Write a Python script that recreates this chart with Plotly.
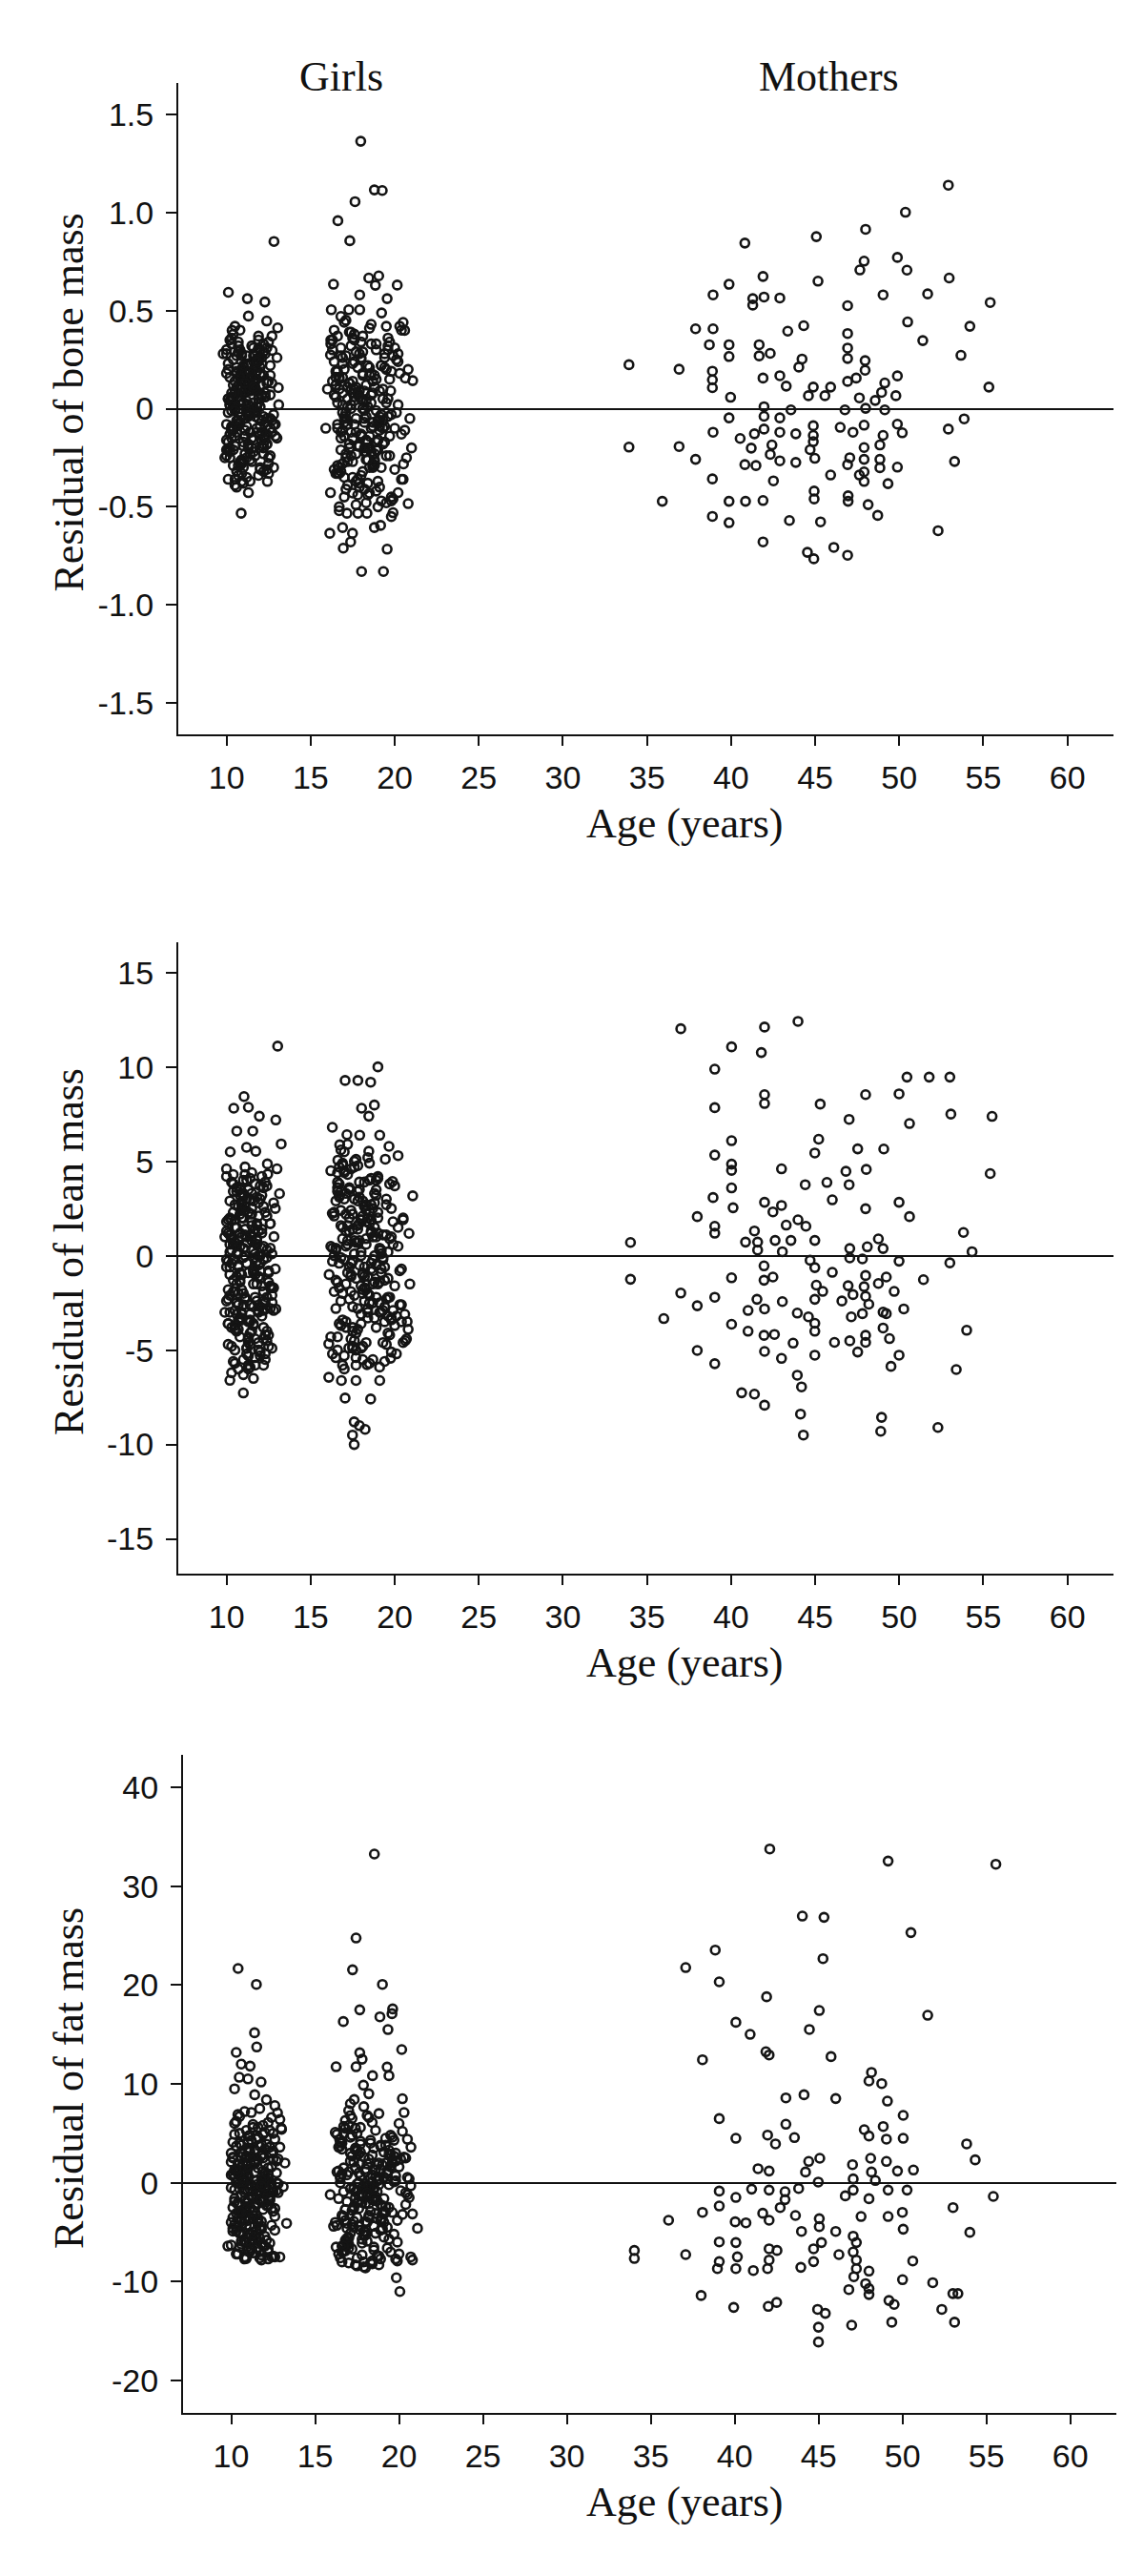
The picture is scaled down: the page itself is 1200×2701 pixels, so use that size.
import plotly.graph_objects as go

W, H = 1200, 2701

# ---------------- data ----------------
# girls, shared ages (same individuals in the three panels)
girl_age_a = [10.1, 11.4, 10.6, 12.0, 10.9, 11.7, 10.3, 12.4, 11.1, 10.8,
              11.9, 10.2, 11.3, 12.6, 10.5, 11.0, 11.8, 10.7, 12.2, 11.5,
              10.0, 11.2, 12.9, 10.4, 11.6, 10.9, 12.1, 11.3, 10.6, 12.5,
              11.0, 10.3, 11.9, 12.3, 10.8, 11.4, 10.1, 12.7, 11.7, 10.5,
              11.2, 12.0, 10.7, 11.5, 10.2, 12.8, 11.1, 10.9, 11.8, 10.4,
              12.2, 11.6, 10.0, 11.3, 12.4, 10.6, 11.9, 10.8, 12.1, 11.0,
              10.3, 11.7, 12.6, 10.5, 11.4, 10.9, 12.0, 11.2, 10.1, 12.3,
              11.8, 10.7, 11.5, 12.9, 10.4, 11.1, 10.2, 12.5, 11.6, 10.8,
              11.3, 12.2, 10.6, 11.9, 10.0, 12.7, 11.0, 10.5, 11.7, 12.4,
              10.9, 11.4, 10.3, 12.1, 11.8, 10.7, 11.2, 12.6, 10.1, 11.5,
              12.0, 10.4, 11.6, 10.8, 12.3, 11.1, 10.6, 11.9, 13.0, 10.2,
              11.3, 10.9, 12.5, 11.7, 10.5, 12.2, 11.0, 10.3, 11.4, 12.8,
              10.7, 11.8, 10.0, 12.0, 11.2, 10.6, 11.5, 12.4, 10.9, 11.1,
              12.1, 10.4, 11.6, 10.8, 12.7, 11.3, 10.2, 11.9, 12.3, 10.5,
              11.0, 12.6, 10.7, 11.4, 10.1, 12.2, 11.7, 10.9, 11.8, 12.0,
              10.4, 11.1, 12.3, 10.2, 11.6, 10.8, 12.0, 11.3, 10.5, 11.9,
              10.7, 12.2, 11.0, 10.3, 11.5, 12.5, 10.9, 11.2, 10.1, 11.8,
              12.1, 10.6, 11.4, 10.0, 12.4, 11.7, 10.8, 11.0, 12.6, 10.4,
              11.3, 10.7, 11.9, 12.2, 10.2, 11.6, 10.9, 12.0, 11.1, 10.5,
              11.8, 10.3, 12.3, 11.4, 10.6, 11.2, 12.7, 10.1, 11.5, 10.8,
              12.1, 11.0, 10.4, 11.7, 12.4, 10.9, 11.3, 10.2, 11.9, 12.0,
              10.6, 11.5, 10.7, 12.2, 11.1, 10.3, 11.8, 12.5, 10.5, 11.4,
              10.0, 11.6, 12.3, 10.8, 11.2, 10.4, 12.1, 11.0, 10.9, 11.7,
              12.6, 10.2, 11.3, 10.6, 11.9, 12.0, 10.7, 11.5, 10.3, 12.2,
              11.1, 10.5, 11.8, 12.4, 10.1, 11.4, 10.8, 11.6, 12.8, 10.9]
girl_age_b = [17.2, 18.5, 16.6, 19.3, 17.8, 18.1, 16.9, 19.8, 17.5, 18.8,
              16.3, 19.1, 17.9, 18.4, 20.2, 17.1, 18.7, 16.7, 19.5, 18.0,
              17.4, 19.0, 16.5, 18.3, 17.7, 20.5, 18.9, 17.0, 19.4, 16.8,
              18.2, 17.6, 19.7, 16.4, 18.6, 17.3, 20.0, 18.1, 16.9, 19.2,
              17.8, 18.4, 16.2, 19.6, 17.5, 18.8, 20.4, 17.1, 18.0, 16.6,
              19.0, 17.9, 18.5, 16.7, 19.3, 17.4, 20.7, 18.2, 17.0, 19.9,
              16.5, 18.7, 17.6, 19.1, 18.3, 16.8, 20.1, 17.2, 18.9, 17.7,
              19.5, 16.4, 18.1, 17.3, 19.8, 18.6, 16.9, 20.3, 17.5, 18.4,
              17.0, 19.2, 16.6, 18.0, 17.8, 19.6, 18.8, 16.3, 20.6, 17.4,
              18.5, 17.1, 19.4, 16.7, 18.2, 17.9, 20.0, 18.7, 16.5, 19.0,
              17.6, 18.3, 16.8, 19.7, 17.2, 18.9, 20.8, 17.7, 18.1, 16.4,
              19.3, 17.5, 18.6, 16.9, 19.9, 17.3, 18.4, 20.2, 17.0, 18.8,
              16.6, 19.1, 17.8, 18.0, 16.2, 19.5, 17.4, 18.5, 20.4, 17.6,
              18.2, 16.7, 19.8, 17.1, 18.7, 17.9, 16.5, 19.2, 18.3, 20.5,
              17.2, 18.6, 16.8, 19.6, 17.7, 18.1, 19.0, 16.3, 18.9, 17.5,
              17.4, 18.2, 16.8, 19.1, 17.7, 18.6, 17.0, 19.5, 18.0, 16.6,
              18.9, 17.3, 19.3, 16.9, 18.4, 17.8, 20.0, 17.1, 18.7, 19.7,
              16.7, 18.1, 17.5, 19.0, 18.3, 16.5, 19.4, 17.6, 18.8, 17.2,
              20.3, 18.5, 16.9, 17.9, 19.2, 18.0, 17.4, 19.6, 16.4, 18.6,
              17.7, 19.8, 18.2, 17.0, 18.9, 16.8, 19.1, 17.5, 18.4, 20.1,
              17.3, 18.7, 16.6, 19.4, 17.8, 18.1, 19.9, 17.1, 18.5, 16.9,
              19.2, 17.6, 18.3, 20.4, 17.4, 18.8, 16.7, 19.5, 18.0, 17.2,
              18.6, 19.0, 16.5, 17.9, 19.7, 18.2, 17.7, 18.9, 16.8, 19.3,
              17.0, 18.4, 20.2, 17.5, 18.1, 16.6, 19.6, 17.8, 18.7, 17.3,
              19.1, 16.9, 18.5, 17.6, 19.8, 18.3, 17.1, 18.0, 19.4, 16.7]

bone_girl_a = [0.05, -0.12, 0.21, -0.30, 0.10, -0.02, 0.33, -0.18, 0.14, -0.07,
               0.26, -0.25, 0.02, 0.17, -0.36, 0.08, -0.10, 0.29, -0.04, 0.12,
               -0.21, 0.19, -0.14, 0.38, 0.00, -0.28, 0.07, 0.23, -0.09, -0.33,
               0.15, -0.01, 0.31, -0.16, 0.04, -0.23, 0.20, -0.06, 0.11, -0.39,
               0.27, -0.13, 0.06, -0.20, 0.35, -0.03, 0.16, -0.27, 0.09, 0.01,
               -0.15, 0.24, -0.08, 0.13, -0.31, 0.18, -0.05, 0.40, -0.19, 0.03,
               -0.11, 0.22, -0.24, 0.08, -0.37, 0.14, 0.30, -0.02, -0.17, 0.06,
               0.19, -0.29, 0.11, -0.08, 0.25, -0.14, 0.02, 0.34, -0.22, 0.10,
               -0.04, 0.17, -0.32, 0.05, 0.28, -0.12, 0.21, -0.19, -0.01, 0.13,
               -0.26, 0.09, 0.36, -0.06, 0.15, -0.34, 0.04, -0.10, 0.23, -0.15,
               0.12, -0.21, 0.31, 0.00, -0.07, 0.18, -0.40, 0.07, 0.26, -0.13,
               -0.03, 0.20, -0.25, 0.14, 0.42, -0.18, 0.03, -0.09, 0.16, -0.30,
               0.08, 0.24, -0.16, 0.01, -0.35, 0.11, 0.32, -0.05, 0.19, -0.23,
               0.06, -0.11, 0.27, -0.28, 0.13, 0.02, -0.20, 0.37, -0.14, 0.09,
               -0.38, 0.22, -0.06, 0.15, -0.02, 0.29, -0.24, 0.04, -0.12, 0.17,
               0.12, -0.05, 0.28, -0.22, 0.03, 0.17, -0.31, 0.09, -0.14, 0.24,
               -0.02, 0.33, -0.19, 0.06, -0.27, 0.14, 0.20, -0.09, -0.36, 0.01,
               0.26, -0.12, 0.10, -0.24, 0.31, -0.04, 0.16, -0.17, 0.07, -0.29,
               0.22, -0.08, 0.35, -0.20, 0.04, 0.13, -0.33, 0.18, -0.11, 0.00,
               0.29, -0.15, 0.08, -0.26, 0.19, -0.01, 0.37, -0.21, 0.11, -0.07,
               0.23, -0.30, 0.05, 0.15, -0.13, 0.27, -0.18, 0.02, -0.34, 0.21,
               -0.06, 0.12, 0.32, -0.23, 0.09, -0.10, 0.25, -0.28, 0.14, -0.03,
               0.18, -0.16, 0.06, 0.30, -0.25, 0.01, -0.12, 0.22, -0.37, 0.10,
               -0.05, 0.16, -0.20, 0.27, 0.03, -0.09, 0.34, -0.15, 0.08, -0.32,
               0.13, -0.01, 0.24, -0.18, 0.05, 0.19, -0.27, 0.11, -0.08, 0.28]
bone_girl_b = [-0.08, 0.21, -0.33, 0.05, -0.19, 0.37, -0.02, -0.45, 0.14, -0.26,
               0.30, -0.11, 0.09, -0.38, 0.24, -0.05, -0.29, 0.16, 0.42, -0.14,
               0.02, -0.50, 0.19, -0.22, 0.11, -0.36, 0.33, -0.07, -0.17, 0.27,
               -0.41, 0.06, -0.24, 0.40, -0.10, 0.13, -0.31, 0.00, 0.23, -0.47,
               0.08, -0.20, 0.35, -0.04, -0.27, 0.17, -0.13, 0.45, -0.34, 0.03,
               -0.16, 0.28, -0.43, 0.10, -0.06, 0.32, -0.25, -0.01, 0.20, -0.53,
               0.12, -0.30, 0.38, -0.09, 0.04, -0.21, 0.25, -0.39, 0.15, -0.12,
               -0.48, 0.07, 0.29, -0.18, -0.03, 0.43, -0.28, 0.18, -0.15, 0.01,
               -0.35, 0.22, -0.08, 0.34, -0.44, 0.05, -0.23, 0.14, -0.11, 0.39,
               -0.30, -0.02, 0.26, -0.52, 0.09, -0.19, 0.31, -0.07, 0.16, -0.37,
               0.04, -0.26, 0.47, -0.14, 0.11, -0.42, 0.20, -0.05, -0.32, 0.24,
               -0.10, 0.36, -0.22, 0.02, -0.46, 0.13, -0.17, 0.28, -0.04, -0.29,
               0.19, -0.40, 0.07, -0.13, 0.33, -0.24, 0.00, 0.41, -0.36, 0.10,
               -0.20, 0.15, -0.55, 0.27, -0.09, 0.06, -0.33, 0.22, -0.16, 0.44,
               -0.27, 0.03, -0.12, 0.30, -0.49, 0.17, -0.06, 0.35, -0.21, 0.08,
               0.10, -0.22, 0.31, -0.06, -0.37, 0.18, -0.14, 0.03, 0.26, -0.29,
               -0.01, 0.39, -0.18, 0.08, -0.44, 0.21, -0.10, -0.25, 0.14, 0.34,
               -0.33, 0.00, 0.23, -0.16, -0.48, 0.12, 0.28, -0.08, -0.27, 0.05,
               0.42, -0.20, 0.16, -0.40, -0.03, 0.25, -0.12, 0.36, -0.31, 0.07,
               -0.23, 0.19, -0.05, -0.45, 0.30, -0.15, 0.09, -0.35, 0.22, -0.02,
               0.13, -0.28, 0.37, -0.09, -0.19, 0.04, 0.27, -0.41, 0.17, -0.11,
               -0.30, 0.24, -0.04, 0.40, -0.24, 0.11, -0.50, 0.20, -0.13, 0.01,
               0.33, -0.21, 0.06, -0.38, 0.15, -0.07, 0.29, -0.17, -0.32, 0.10,
               0.44, -0.26, 0.02, -0.43, 0.18, -0.10, 0.32, -0.36, 0.08, -0.20,
               -0.04, 0.26, -0.14, 0.35, -0.47, 0.12, -0.23, 0.05, 0.21, -0.30]
lean_girl_a = [1.2, -3.4, 0.5, -5.1, 2.8, -1.0, 3.9, -2.2, 0.0, -4.3,
               2.1, -0.6, -5.8, 1.7, -2.9, 3.3, -1.5, 0.8, -3.8, 4.4,
               -0.2, -4.9, 2.5, -1.9, 0.3, -3.1, 1.4, -6.0, 3.6, -0.9,
               -2.6, 0.9, -4.6, 2.3, -1.3, 4.1, -3.6, 0.1, -5.4, 1.9,
               -0.4, 3.0, -2.0, -4.0, 1.1, -1.7, 4.7, -3.0, 0.6, -5.6,
               2.6, -0.8, -2.4, 3.5, -4.5, 1.5, -1.1, -3.3, 0.4, 2.0,
               -6.2, 3.8, -1.6, 0.7, -4.1, 2.4, -2.7, 1.0, -0.3, -5.2,
               3.1, -3.9, 1.8, -0.7, 4.3, -2.3, 0.2, -4.8, 2.9, -1.4,
               -3.5, 0.5, 3.4, -5.0, 1.3, -2.1, -0.1, 2.7, -4.4, 3.7,
               -1.8, -5.9, 0.9, -3.2, 1.6, -0.5, 4.0, -2.8, -4.7, 2.2,
               -1.2, 0.6, -3.7, 3.2, -5.5, 1.1, -2.5, 0.0, 4.6, -3.0,
               -0.9, 2.0, -4.2, 1.4, -1.9, 3.6, -6.3, 0.3, -2.6, 2.8,
               -3.4, 1.7, -0.6, -5.3, 3.0, -1.5, 0.8, -4.0, 2.5, -2.2,
               4.2, -0.2, -3.6, 1.2, -4.9, 2.3, -1.0, -2.9, 3.9, -5.7,
               0.4, -1.7, 2.6, -3.1, 1.9, -4.4, 0.1, 3.3, -2.4, -0.8,
               -1.3, 2.4, -4.2, 0.6, -2.7, 3.5, -0.4, -5.3, 1.5, -3.0,
               0.2, -1.9, 4.0, -3.8, 1.0, -0.8, 2.7, -4.9, -2.3, 0.9,
               3.2, -1.1, -3.5, 1.8, -0.1, -5.8, 2.2, -2.0, 0.4, 3.8,
               -4.4, -0.6, 1.3, -2.9, 2.9, -1.5, -3.3, 0.0, 4.3, -5.0,
               -0.3, 1.9, -2.5, 3.0, -4.0, 0.7, -1.7, -3.6, 2.5, -0.9,
               1.2, -5.5, 3.4, -2.2, 0.3, -1.0, -4.6, 2.0, -0.5, 3.7,
               -3.1, 1.6, -2.6, -0.2, 2.6, -4.8, 0.8, -1.4, -3.9, 1.1,
               4.2, -0.7, -2.8, 0.5, -5.2, 2.3, -1.6, 3.1, -3.4, -0.1,
               1.7, -2.1, -4.3, 0.1, 2.8, -1.2, -6.0, 3.3, -0.4, -2.4,
               1.4, -3.7, 0.6, 2.1, -1.8, -4.7, 3.6, -0.9, -2.9, 1.0]
lean_girl_b = [0.8, -2.5, 3.9, -4.6, 1.6, -0.9, 4.8, -3.3, 2.2, -1.4,
               -5.2, 0.3, 3.1, -2.0, 5.3, -3.8, 1.0, -0.4, 2.7, -4.9,
               -1.1, 4.2, -2.8, 0.6, -5.8, 1.9, 3.5, -0.2, -3.5, 2.4,
               -1.7, 5.0, -4.2, 0.0, 1.3, -2.3, 3.7, -5.5, 0.9, -0.7,
               2.9, -3.0, 4.5, -1.2, -4.0, 1.5, -2.6, 3.3, 0.2, -5.0,
               2.0, -0.5, 4.0, -3.6, 1.1, -1.9, -4.4, 2.6, 5.5, -2.9,
               0.4, -1.5, 3.0, -5.9, 1.8, -0.1, -3.2, 4.3, -2.2, 0.7,
               -4.7, 2.3, -1.0, 3.6, -3.4, 1.2, 4.9, -0.8, -2.7, 2.0,
               -5.3, 0.1, 3.4, -1.6, 1.4, -4.1, 2.8, -0.3, -3.1, 4.6,
               -2.1, 0.5, -5.6, 3.2, -0.6, 1.7, -3.7, 2.5, -1.3, 4.1,
               -4.5, 0.9, -2.4, 3.8, -0.9, 1.0, -3.9, 5.1, -1.8, 2.1,
               -0.2, -4.8, 2.7, -2.0, 0.6, 3.5, -3.3, 1.5, -6.0, 0.0,
               4.4, -1.4, -2.8, 1.9, -4.3, 3.0, -0.4, 2.3, -3.5, 0.8,
               -1.1, 4.7, -5.1, 1.3, -2.5, 3.9, 0.3, -3.0, 2.4, -4.6,
               1.6, -0.7, 3.4, -2.2, -5.4, 2.9, -1.5, 0.4, 4.0, -3.8,
               -1.0, 2.6, -3.7, 0.4, -5.0, 1.9, 4.4, -2.3, 0.0, -4.3,
               3.2, -0.6, -2.9, 1.5, 5.2, -3.9, -1.6, 2.2, -5.5, 0.9,
               3.8, -2.0, -0.3, 1.2, -4.6, 2.9, -1.3, 4.7, -3.3, 0.6,
               -2.6, 1.7, -5.8, 3.5, -0.9, -3.6, 2.4, 0.2, -1.9, 4.1,
               -4.1, 1.0, -2.4, 3.0, -0.5, 5.6, -3.0, 1.4, -1.1, -5.2,
               2.0, -0.2, 3.6, -2.7, 0.7, -4.8, 1.8, -1.5, 4.9, -3.4,
               0.3, -2.1, 2.7, -0.7, -4.4, 3.3, -1.7, 1.1, -3.1, 5.9,
               -0.4, 2.3, -5.4, 0.8, -2.2, 3.9, -1.2, -3.8, 1.6, -0.1,
               4.5, -2.8, 0.5, -4.9, 2.1, -1.4, -3.2, 3.4, -0.8, 1.3,
               -2.5, 4.8, -5.7, 0.1, 2.5, -1.8, -3.5, 1.9, -0.6, 3.1]
fat_girl_a = [-3.5, 2.1, -6.2, 0.4, 5.3, -1.8, -4.9, 3.0, -0.6, 7.2,
              -2.7, 1.2, -7.1, 4.4, -0.1, -5.5, 2.8, -3.0, 6.1, -1.2,
              0.8, -6.8, 3.6, -2.2, -4.1, 1.7, 8.4, -0.9, -5.9, 2.4,
              -3.8, 0.0, 5.8, -1.5, -7.5, 3.3, -2.5, 1.0, -4.6, 6.7,
              -0.3, -6.4, 2.0, -3.3, 4.9, -1.0, -5.2, 0.6, 3.9, -2.0,
              -7.7, 1.5, -0.5, 5.6, -4.3, 2.6, -1.7, -6.0, 0.2, 4.1,
              -3.1, -0.8, 7.8, -5.0, 1.9, -2.4, 3.4, -6.6, 0.9, -1.3,
              -4.4, 2.9, -0.2, 6.4, -3.6, -7.0, 1.3, -2.9, 4.6, -0.7,
              -5.7, 0.5, 3.1, -1.9, -4.0, 2.2, -6.9, 5.0, -0.4, -2.6,
              1.8, -5.3, 3.7, -1.1, -7.3, 0.1, 4.3, -3.4, 2.5, -4.8,
              -0.6, 6.9, -2.1, 1.1, -6.1, 3.2, -3.9, 0.3, 5.4, -1.6,
              -5.0, 2.0, -0.9, -7.6, 4.0, -2.3, 1.4, -4.5, 8.9, -0.1,
              -3.2, 2.7, -6.3, 0.7, -1.4, 3.8, -5.6, 1.6, -2.8, 4.8,
              -0.4, -7.2, 2.3, -3.7, 0.0, 5.9, -4.2, 1.2, -1.8, -6.5,
              3.5, -2.6, 0.5, -5.4, 2.6, -0.8, 7.5, -3.0, -4.7, 1.0,
              1.2, -4.4, 3.6, -1.9, -6.6, 0.4, 5.1, -2.8, -0.6, 2.5,
              -5.3, 0.9, -3.4, 6.2, -1.2, -7.4, 2.0, -0.2, 4.1, -3.9,
              -5.8, 1.6, -2.2, 3.0, -0.9, -6.9, 0.0, 4.7, -4.8, 1.8,
              -1.5, -3.1, 2.9, -7.0, 0.6, 5.6, -2.5, -0.4, 3.4, -5.1,
              -6.2, 1.3, -1.7, 2.3, -3.7, 7.1, -0.8, -4.6, 0.2, -7.7,
              3.9, -2.0, 1.0, -5.6, -0.1, 2.7, -3.3, 6.0, -6.4, 0.7,
              -1.3, 4.4, -4.1, 1.5, -2.7, -7.2, 0.3, 3.2, -5.0, -0.5,
              2.1, -3.6, 5.3, -1.0, -6.0, 1.9, -2.3, 0.8, -4.3, 3.7,
              -7.5, -0.7, 2.6, -3.0, 4.9, -5.4, 0.1, -1.6, 1.4, -6.7,
              3.1, -2.9, -0.3, 6.6, -4.9, 1.1, -1.8, -3.8, 2.4, -5.9]
fat_girl_b = [-2.8, 3.5, -6.4, 1.0, -0.5, 6.8, -4.1, 2.2, -7.6, 0.3,
              4.9, -1.6, -5.3, 2.8, -3.2, 8.0, -0.9, -6.9, 1.7, -2.1,
              5.5, -4.6, 0.6, -8.1, 3.1, -1.2, -3.7, 7.3, -0.2, -5.8,
              2.4, -2.6, 4.3, -7.2, 1.3, -0.6, 6.0, -4.0, -1.9, 3.8,
              -6.1, 0.1, 5.1, -3.0, -8.4, 2.0, -1.0, 4.6, -5.0, 0.9,
              -2.3, 7.7, -4.4, 1.5, -6.6, 3.3, -0.3, -3.5, 5.8, -7.9,
              0.5, -1.8, 2.9, -5.5, 4.0, -2.7, -0.8, 6.5, -4.8, 1.9,
              -7.0, 3.6, -1.4, -3.9, 0.7, 5.3, -6.2, 2.6, -2.0, -8.2,
              1.1, 4.5, -3.3, -0.1, -5.7, 2.3, 7.0, -4.3, 0.4, -1.5,
              -6.8, 3.0, -2.5, 5.7, -0.7, -4.9, 1.6, -7.4, 4.1, -3.6,
              0.0, -1.1, 6.3, -5.2, 2.7, -2.2, -7.8, 3.9, -0.4, 1.2,
              -4.5, 5.0, -3.1, 0.8, -6.0, 2.1, -1.7, 8.5, -5.6, -0.2,
              3.4, -2.9, -7.3, 1.4, -4.0, 4.8, -0.9, -6.5, 2.5, -1.3,
              6.6, -3.4, 0.2, -5.1, 1.8, -8.0, 3.7, -2.4, -0.5, 4.4,
              -6.7, 0.6, -3.8, 2.0, 5.6, -1.0, -4.7, 1.1, -7.7, 3.2,
              1.5, -3.3, -6.9, 0.6, 4.2, -1.4, -5.5, 2.9, -0.3, -8.0,
              3.7, -2.4, 0.9, -4.6, 6.1, -1.1, -7.2, 2.2, -3.6, 0.1,
              5.0, -5.9, -0.8, 1.8, -2.9, -7.6, 3.3, -1.9, 0.4, -4.2,
              7.1, -0.5, -6.3, 2.6, -3.0, 1.1, -8.3, 4.6, -1.6, -5.1,
              0.7, 3.0, -2.1, -6.6, 1.4, 5.5, -4.0, -0.1, -7.9, 2.4,
              -2.6, 0.3, 4.0, -5.7, -1.3, 1.9, -3.8, 6.8, -0.7, -6.0,
              2.0, -4.4, 0.5, -2.2, 3.5, -7.4, -0.9, 1.6, -5.3, 4.8,
              -1.8, -3.1, 0.0, -8.5, 2.7, -0.4, -4.8, 3.8, -2.7, 1.2,
              -6.2, 0.8, 5.2, -3.5, -1.0, -7.0, 2.1, -2.0, 0.2, -4.5,
              3.1, -5.6, -1.5, 1.0, -7.7, 4.3, -0.6, -3.9, 2.8, -6.4]

# girls, scattered points read individually per panel
bone_girl_x_age = [12.82, 10.11, 11.24, 12.28, 11.30, 12.39, 13.04, 10.33, 12.71, 10.0,
                   13.08, 10.87, 11.3, 12.43, 9.8, 9.9, 13.0, 13.1,
                   17.98, 18.79, 19.26, 17.64, 16.62, 17.33, 16.36, 18.46, 19.05, 20.15,
                   18.85, 17.92, 19.55, 16.23, 17.27, 17.92, 19.22, 20.59, 16.18, 20.63,
                   21.07, 19.76, 16.18, 20.8, 16.14, 16.9, 17.49, 17.38, 16.94, 18.79,
                   19.16, 19.55, 18.03, 19.33, 17.16, 17.81, 18.35, 20.2, 20.52, 20.9,
                   21.0, 15.9, 16.0]
bone_girl_x_res = [0.852, 0.593, 0.561, 0.544, 0.472, 0.447, 0.412, 0.399, 0.297, 0.301,
                   0.107, -0.533, -0.428, -0.371, 0.28, -0.25, -0.15, 0.02,
                   1.363, 1.115, 1.112, 1.055, 0.958, 0.856, 0.634, 0.666, 0.677, 0.630,
                   0.629, 0.580, 0.561, 0.504, 0.504, 0.504, 0.488, 0.399, 0.274, 0.156,
                   0.143, 0.091, -0.428, -0.484, -0.635, -0.606, -0.635, -0.679, -0.711, -0.606,
                   -0.595, -0.716, -0.830, -0.830, -0.533, -0.533, -0.533, -0.428, -0.282, -0.05,
                   -0.2, -0.1, 0.1]
lean_girl_x_age = [13.04, 11.04, 10.43, 11.3, 11.95, 12.93, 10.61, 11.56, 13.25, 10.22,
                   11.19, 11.74, 12.43, 10.0, 12.45, 13.15, 12.82, 12.93, 12.71, 11.0,
                   10.2, 11.6, 12.2, 9.9, 9.9,
                   19.0, 17.05, 17.81, 18.57, 18.79, 18.03, 18.46, 16.29, 17.16, 17.92,
                   19.11, 19.66, 16.73, 18.46, 16.62, 19.44, 17.81, 19.87, 21.07, 16.29,
                   20.85, 20.74, 20.63, 16.08, 17.27, 16.08, 16.83, 17.7, 19.11, 19.76,
                   18.35, 17.05, 18.57, 17.59, 18.24, 17.49, 17.59, 17.9, 16.1, 16.2,
                   20.9, 20.5]
lean_girl_x_res = [11.1, 8.43, 7.81, 7.86, 7.39, 7.19, 6.6, 6.6, 5.92, 5.5,
                   5.74, 5.53, 4.86, 4.6, 4.32, 3.29, 1.01, -2.82, -2.48, -7.27,
                   -6.6, -6.5, -5.8, -3.0, 1.0,
                   10.0, 9.28, 9.28, 9.19, 7.98, 7.81, 7.39, 6.8, 6.41, 6.38,
                   6.38, 5.79, 5.87, 5.53, 5.06, 5.11, 4.77, 3.93, 3.17, 2.24,
                   1.18, -3.49, -4.5, -4.67, -4.89, -6.44, -6.61, -6.61, -6.61, -5.43,
                   -5.77, -7.54, -7.59, -8.8, -9.2, -9.5, -10.0, -9.0, -1.0, 0.5,
                   -1.5, 2.0]
fat_girl_x_age = [10.41, 11.5, 11.39, 11.52, 10.3, 11.13, 11.78, 10.48, 12.76, 12.98,
                  10.9, 11.8, 12.4, 12.9, 13.3, 13.1, 10.2, 11.0, 12.5, 9.8,
                  13.2, 10.6,
                  18.53, 17.44, 17.23, 19.01, 17.66, 16.68, 19.62, 19.58, 18.86, 19.34,
                  20.16, 17.66, 16.25, 17.44, 19.29, 19.4, 18.42, 17.88, 17.33, 20.71,
                  16.46, 20.05, 19.84, 20.7, 20.8, 21.1, 20.6, 20.5, 17.0, 16.25,
                  15.9, 16.1, 18.0, 18.8, 17.8, 18.2]
fat_girl_x_res = [21.67, 20.06, 15.17, 13.73, 13.18, 11.8, 10.19, 10.67, 7.07, 5.53,
                  -7.65, -7.8, -7.5, -7.5, -4.1, -0.4, 9.5, 10.5, 5.0, -6.4,
                  2.0, 12.0,
                  33.24, 24.75, 21.54, 20.06, 17.49, 16.3, 17.58, 17.1, 16.78, 15.49,
                  13.47, 13.15, 11.73, 11.73, 11.7, 10.83, 10.83, 9.87, 8.42, 3.6,
                  4.4, -11.0, -9.6, -7.5, -3.15, -4.6, -1.5, 0.55, -8.1, -6.5,
                  -1.2, -4.4, -8.6, -8.3, 12.5, 9.0]

# mothers
bone_mother_age = [52.92, 50.37, 48.0, 45.07, 40.82, 49.89, 50.46, 47.91, 47.66, 52.97,
                   41.9, 39.88, 45.17, 38.93, 41.29, 41.29, 41.96, 42.9, 46.93, 49.04,
                   51.69, 55.41, 37.89, 38.93, 43.37, 44.32, 50.5, 54.2, 51.4, 46.93,
                   46.93, 46.93, 38.71, 39.88, 39.88, 41.67, 41.67, 42.33, 44.22, 44.03,
                   53.67, 33.93, 36.91, 38.89, 38.89, 38.89, 41.9, 42.9, 43.28, 47.97,
                   47.97, 46.93, 47.44, 49.89, 49.14, 44.89, 45.92, 44.6, 45.58, 55.33,
                   39.97, 47.63, 48.57, 49.8, 48.95, 41.96, 43.56, 46.77, 48.0, 49.14,
                   39.88, 41.96, 42.9, 53.86, 38.93, 40.54, 41.39, 41.96, 42.9, 43.85,
                   44.89, 44.89, 44.89, 46.49, 47.25, 47.91, 49.04, 50.18, 49.89, 52.92,
                   33.93, 36.91, 37.89, 41.2, 42.43, 42.33, 42.9, 43.85, 40.82, 41.48,
                   44.7, 44.98, 47.91, 48.85, 47.06, 47.91, 48.85, 46.93, 48.85, 49.89,
                   53.29, 47.91, 47.63, 47.91, 45.92, 49.33, 38.89, 42.52, 35.91, 39.88,
                   40.86, 41.9, 44.94, 44.94, 46.96, 46.96, 48.15, 48.72, 38.89, 39.88,
                   43.47, 45.32, 52.31, 41.9, 44.54, 44.92, 46.11, 46.93]
bone_mother_res = [1.139, 1.001, 0.914, 0.877, 0.844, 0.771, 0.706, 0.752, 0.707, 0.666,
                   0.674, 0.634, 0.650, 0.580, 0.561, 0.528, 0.569, 0.564, 0.525, 0.580,
                   0.585, 0.541, 0.407, 0.407, 0.395, 0.423, 0.442, 0.420, 0.347, 0.383,
                   0.309, 0.256, 0.326, 0.326, 0.266, 0.326, 0.269, 0.282, 0.253, 0.212,
                   0.272, 0.224, 0.201, 0.191, 0.147, 0.107, 0.156, 0.168, 0.115, 0.245,
                   0.196, 0.139, 0.156, 0.167, 0.131, 0.110, 0.110, 0.066, 0.066, 0.110,
                   0.058, 0.055, 0.042, 0.066, 0.083, 0.010, -0.006, -0.006, 0.002, -0.006,
                   -0.047, -0.039, -0.047, -0.052, -0.120, -0.152, -0.128, -0.104, -0.120, -0.128,
                   -0.087, -0.136, -0.168, -0.095, -0.120, -0.084, -0.136, -0.123, -0.079, -0.104,
                   -0.196, -0.193, -0.258, -0.201, -0.185, -0.233, -0.266, -0.274, -0.285, -0.290,
                   -0.209, -0.253, -0.198, -0.185, -0.250, -0.258, -0.258, -0.285, -0.301, -0.298,
                   -0.269, -0.322, -0.338, -0.371, -0.338, -0.382, -0.358, -0.368, -0.472, -0.472,
                   -0.472, -0.468, -0.420, -0.460, -0.444, -0.472, -0.489, -0.544, -0.549, -0.581,
                   -0.570, -0.577, -0.622, -0.679, -0.732, -0.765, -0.707, -0.747]
lean_mother_age = [37.01, 41.99, 43.98, 40.03, 41.8, 39.03, 50.46, 51.78, 53.01, 48.0,
                   49.99, 41.99, 41.99, 39.03, 45.3, 47.02, 50.61, 53.07, 55.52, 40.03,
                   45.21, 44.98, 39.03, 47.53, 49.08, 40.03, 40.03, 43.0, 46.83, 48.04,
                   55.41, 44.41, 45.7, 47.02, 40.03, 38.93, 46.02, 40.12, 41.99, 43.0,
                   42.49, 48.0, 49.99, 50.61, 37.99, 39.03, 39.03, 43.98, 43.28, 44.45,
                   41.39, 34.02, 40.86, 41.58, 42.62, 43.56, 44.98, 48.76, 53.82, 41.58,
                   43.05, 47.06, 48.1, 49.04, 54.33, 47.06, 47.81, 44.7, 49.99, 53.01,
                   41.96, 44.98, 46.02, 34.02, 40.03, 41.96, 42.49, 48.0, 49.23, 51.44,
                   45.07, 46.96, 47.91, 48.76, 49.7, 37.01, 39.03, 37.99, 41.54, 43.05,
                   44.98, 45.45, 46.59, 47.25, 48.0, 48.19, 41.01, 41.99, 43.94, 44.6,
                   47.15, 47.81, 49.04, 49.23, 50.27, 36.0, 40.03, 41.01, 41.96, 42.58,
                   44.98, 44.98, 49.04, 49.42, 48.0, 48.0, 54.01, 43.69, 46.15, 47.06,
                   47.53, 37.99, 41.99, 43.0, 44.98, 49.99, 49.51, 39.03, 53.39, 43.94,
                   44.19, 40.63, 41.39, 41.99, 44.13, 48.95, 44.3, 48.9, 52.3]
lean_mother_res = [12.02, 12.11, 12.41, 11.06, 10.76, 9.88, 9.46, 9.46, 9.46, 8.53,
                   8.57, 8.53, 8.06, 7.84, 8.03, 7.22, 7.0, 7.5, 7.38, 6.09,
                   6.17, 5.44, 5.33, 5.66, 5.65, 4.85, 4.52, 4.6, 4.47, 4.57,
                   4.35, 3.76, 3.88, 3.76, 3.59, 3.08, 2.96, 2.54, 2.83, 2.66,
                   2.32, 2.49, 2.83, 2.07, 2.07, 1.56, 1.19, 1.9, 1.62, 1.56,
                   1.31, 0.70, 0.72, 0.72, 0.81, 0.81, 0.81, 0.89, 1.23, 0.30,
                   0.21, 0.38, 0.47, 0.38, 0.21, -0.12, -0.17, -0.24, -0.29, -0.38,
                   -0.54, -0.63, -0.88, -1.25, -1.17, -1.30, -1.13, -1.05, -1.13, -1.27,
                   -1.56, -1.59, -1.64, -1.47, -1.89, -1.98, -2.2, -2.65, -2.31, -2.43,
                   -2.31, -1.89, -2.4, -2.06, -2.15, -2.57, -2.9, -2.82, -3.04, -3.24,
                   -3.24, -3.07, -2.99, -3.07, -2.82, -3.33, -3.63, -4.0, -4.22, -4.17,
                   -3.58, -4.0, -3.83, -4.39, -4.22, -4.59, -3.95, -4.63, -4.59, -4.51,
                   -5.1, -5.02, -5.07, -5.44, -5.27, -5.27, -5.86, -5.72, -6.03, -6.33,
                   -6.95, -7.26, -7.33, -7.92, -8.39, -8.56, -9.5, -9.3, -9.1]
fat_mother_age = [42.09, 49.14, 55.56, 44.03, 45.32, 50.5, 38.84, 37.08, 39.08, 41.9,
                  45.26, 45.04, 51.5, 40.07, 40.92, 44.45, 38.08, 41.86, 42.05, 45.74,
                  48.15, 48.0, 48.76, 49.1, 50.04, 43.05, 44.13, 46.02, 39.08, 43.05,
                  40.07, 41.96, 42.43, 43.56, 47.72, 48.0, 48.85, 49.04, 50.04, 53.82,
                  54.33, 44.41, 45.07, 41.39, 42.05, 44.22, 47.02, 48.1, 49.04, 48.15,
                  49.7, 50.65, 44.98, 47.06, 48.38, 41.01, 42.05, 43.0, 43.81, 39.08,
                  40.07, 43.0, 47.06, 46.59, 48.0, 49.14, 50.27, 55.41, 39.08, 38.08,
                  41.67, 42.05, 42.71, 43.62, 47.53, 49.14, 49.99, 53.01, 36.06, 40.03,
                  40.67, 45.04, 45.04, 43.98, 46.02, 50.04, 54.01, 47.06, 39.08, 40.07,
                  45.17, 47.25, 34.02, 34.02, 37.08, 42.05, 42.52, 44.7, 46.21, 47.06,
                  40.16, 39.08, 42.05, 44.7, 47.25, 50.61, 38.97, 40.07, 41.11, 41.96,
                  43.94, 47.25, 48.0,
                  38.0, 39.94, 42.0, 42.5, 44.94, 45.4, 44.99, 44.99, 46.97, 49.36,
                  49.19, 49.5, 52.34, 53.1, 53.0, 53.3, 51.8, 48.0, 48.0, 47.8,
                  46.8, 50.0, 47.1]
fat_mother_res = [33.75, 32.53, 32.21, 26.97, 26.84, 25.3, 23.53, 21.76, 20.32, 18.81,
                  22.66, 17.42, 16.94, 16.23, 15.01, 15.5, 12.44, 13.25, 12.92, 12.76,
                  11.16, 10.29, 10.03, 8.26, 6.82, 8.58, 8.9, 8.52, 6.49, 5.92,
                  4.5, 4.82, 3.93, 4.57, 5.37, 4.73, 5.69, 4.41, 4.5, 3.93,
                  2.32, 2.16, 2.48, 1.42, 1.19, 1.09, 1.83, 2.48, 2.16, 1.09,
                  1.19, 1.29, 0.07, 0.39, 0.23, -0.64, -0.74, -0.9, -0.58, -0.84,
                  -1.48, -1.7, -0.74, -1.32, -1.61, -0.74, -0.74, -1.38, -2.35, -2.99,
                  -3.08, -3.79, -2.51, -3.31, -3.41, -3.41, -2.99, -2.51, -3.79, -3.95,
                  -4.05, -3.63, -4.43, -4.92, -4.92, -4.69, -5.01, -5.4, -5.98, -6.04,
                  -6.04, -6.04, -6.84, -7.65, -7.26, -6.68, -6.84, -6.68, -7.26, -7.0,
                  -7.49, -7.97, -7.81, -7.97, -7.81, -7.91, -8.68, -8.68, -8.87, -8.68,
                  -8.55, -8.68, -8.93,
                  -11.4, -12.6, -12.5, -12.1, -12.8, -13.2, -14.6, -16.1, -14.4, -14.1,
                  -11.9, -12.3, -12.8, -14.1, -11.2, -11.2, -10.1, -11.3, -10.7, -10.2,
                  -10.8, -9.8, -9.5]

age_ticks = [10, 15, 20, 25, 30, 35, 40, 45, 50, 55, 60]
bone_ticks = [-1.5, -1.0, -0.5, 0, 0.5, 1.0, 1.5]
bone_tick_text = ["-1.5", "-1.0", "-0.5", "0", "0.5", "1.0", "1.5"]
lean_ticks = [-15, -10, -5, 0, 5, 10, 15]
fat_ticks = [-20, -10, 0, 10, 20, 30, 40]

panels = [
    ("Residual of bone mass", bone_girl_a, bone_girl_b, bone_girl_x_age, bone_girl_x_res,
     bone_mother_age, bone_mother_res),
    ("Residual of lean mass", lean_girl_a, lean_girl_b, lean_girl_x_age, lean_girl_x_res,
     lean_mother_age, lean_mother_res),
    ("Residual of fat mass", fat_girl_a, fat_girl_b, fat_girl_x_age, fat_girl_x_res,
     fat_mother_age, fat_mother_res),
]

# ---------------- layout geometry (pixels) ----------------
x_dom_px = [(179, 1160), (179, 1160), (184, 1163)]
y_dom_px = [(79, 762), (980, 1642), (1832, 2522)]
y_ranges = [[-1.66, 1.66], [-16.84, 16.6], [-23.27, 43.27]]
y_tickvals = [bone_ticks, lean_ticks, fat_ticks]
y_ticktext = [bone_tick_text, [str(v) for v in lean_ticks], [str(v) for v in fat_ticks]]
x_range = [7.13, 62.74]

TICK_FONT = dict(family="Liberation Sans Narrow, Arial Narrow, Liberation Sans, Arial", size=34, color="#111")
SERIF = dict(family="Liberation Serif, Times New Roman, serif", size=44, color="#111")
MARK = dict(symbol="circle-open", size=9, color="#141414", line=dict(width=2.6, color="#141414"))

fig = go.Figure()
layout = dict(width=W, height=H, margin=dict(l=0, r=0, t=0, b=0),
              paper_bgcolor="white", plot_bgcolor="white", showlegend=False)
annotations = []

for i, (ytitle, ga, gb, gxa, gxr, ma, mr) in enumerate(panels):
    n = "" if i == 0 else str(i + 1)
    xs = girl_age_a + girl_age_b + gxa + ma
    ys = ga + gb + gxr + mr
    fig.add_trace(go.Scatter(x=xs, y=ys, mode="markers", marker=MARK,
                             xaxis="x" + n, yaxis="y" + n, hoverinfo="skip"))
    x0, x1 = x_dom_px[i]
    yt, yb = y_dom_px[i]
    layout["xaxis" + n] = dict(
        domain=[x0 / W, x1 / W], range=x_range, anchor="y" + n,
        tickmode="array", tickvals=age_ticks, ticks="outside", ticklen=10, tickwidth=2,
        tickcolor="#111", showline=True, linewidth=2, linecolor="#111",
        showgrid=False, zeroline=False, tickfont=TICK_FONT, ticklabelstandoff=4,
        automargin=False)
    layout["yaxis" + n] = dict(
        domain=[1 - yb / H, 1 - yt / H], range=y_ranges[i], anchor="x" + n,
        tickmode="array", tickvals=y_tickvals[i], ticktext=y_ticktext[i],
        ticks="outside", ticklen=11, tickwidth=2, tickcolor="#111",
        showline=True, linewidth=2, linecolor="#111", showgrid=False,
        zeroline=True, zerolinecolor="#111", zerolinewidth=2,
        tickfont=TICK_FONT, ticklabelstandoff=6, automargin=False)
    # axis titles
    annotations.append(dict(text="Age (years)", xref="paper", yref="paper",
                            x=710 / W, y=1 - (yb + 93) / H, xanchor="center", yanchor="middle",
                            showarrow=False, font=SERIF))
    annotations.append(dict(text=ytitle, xref="paper", yref="paper", textangle=-90,
                            x=64 / W, y=1 - ((yt + yb) / 2 - 6) / H, xanchor="center",
                            yanchor="middle", showarrow=False, font=SERIF))

annotations.append(dict(text="Girls", xref="paper", yref="paper", x=350 / W, y=1 - 73 / H,
                        xanchor="center", yanchor="middle", showarrow=False, font=SERIF))
annotations.append(dict(text="Mothers", xref="paper", yref="paper", x=861 / W, y=1 - 73 / H,
                        xanchor="center", yanchor="middle", showarrow=False, font=SERIF))
layout["annotations"] = annotations
fig.update_layout(**layout)
fig.write_html("out.html")
